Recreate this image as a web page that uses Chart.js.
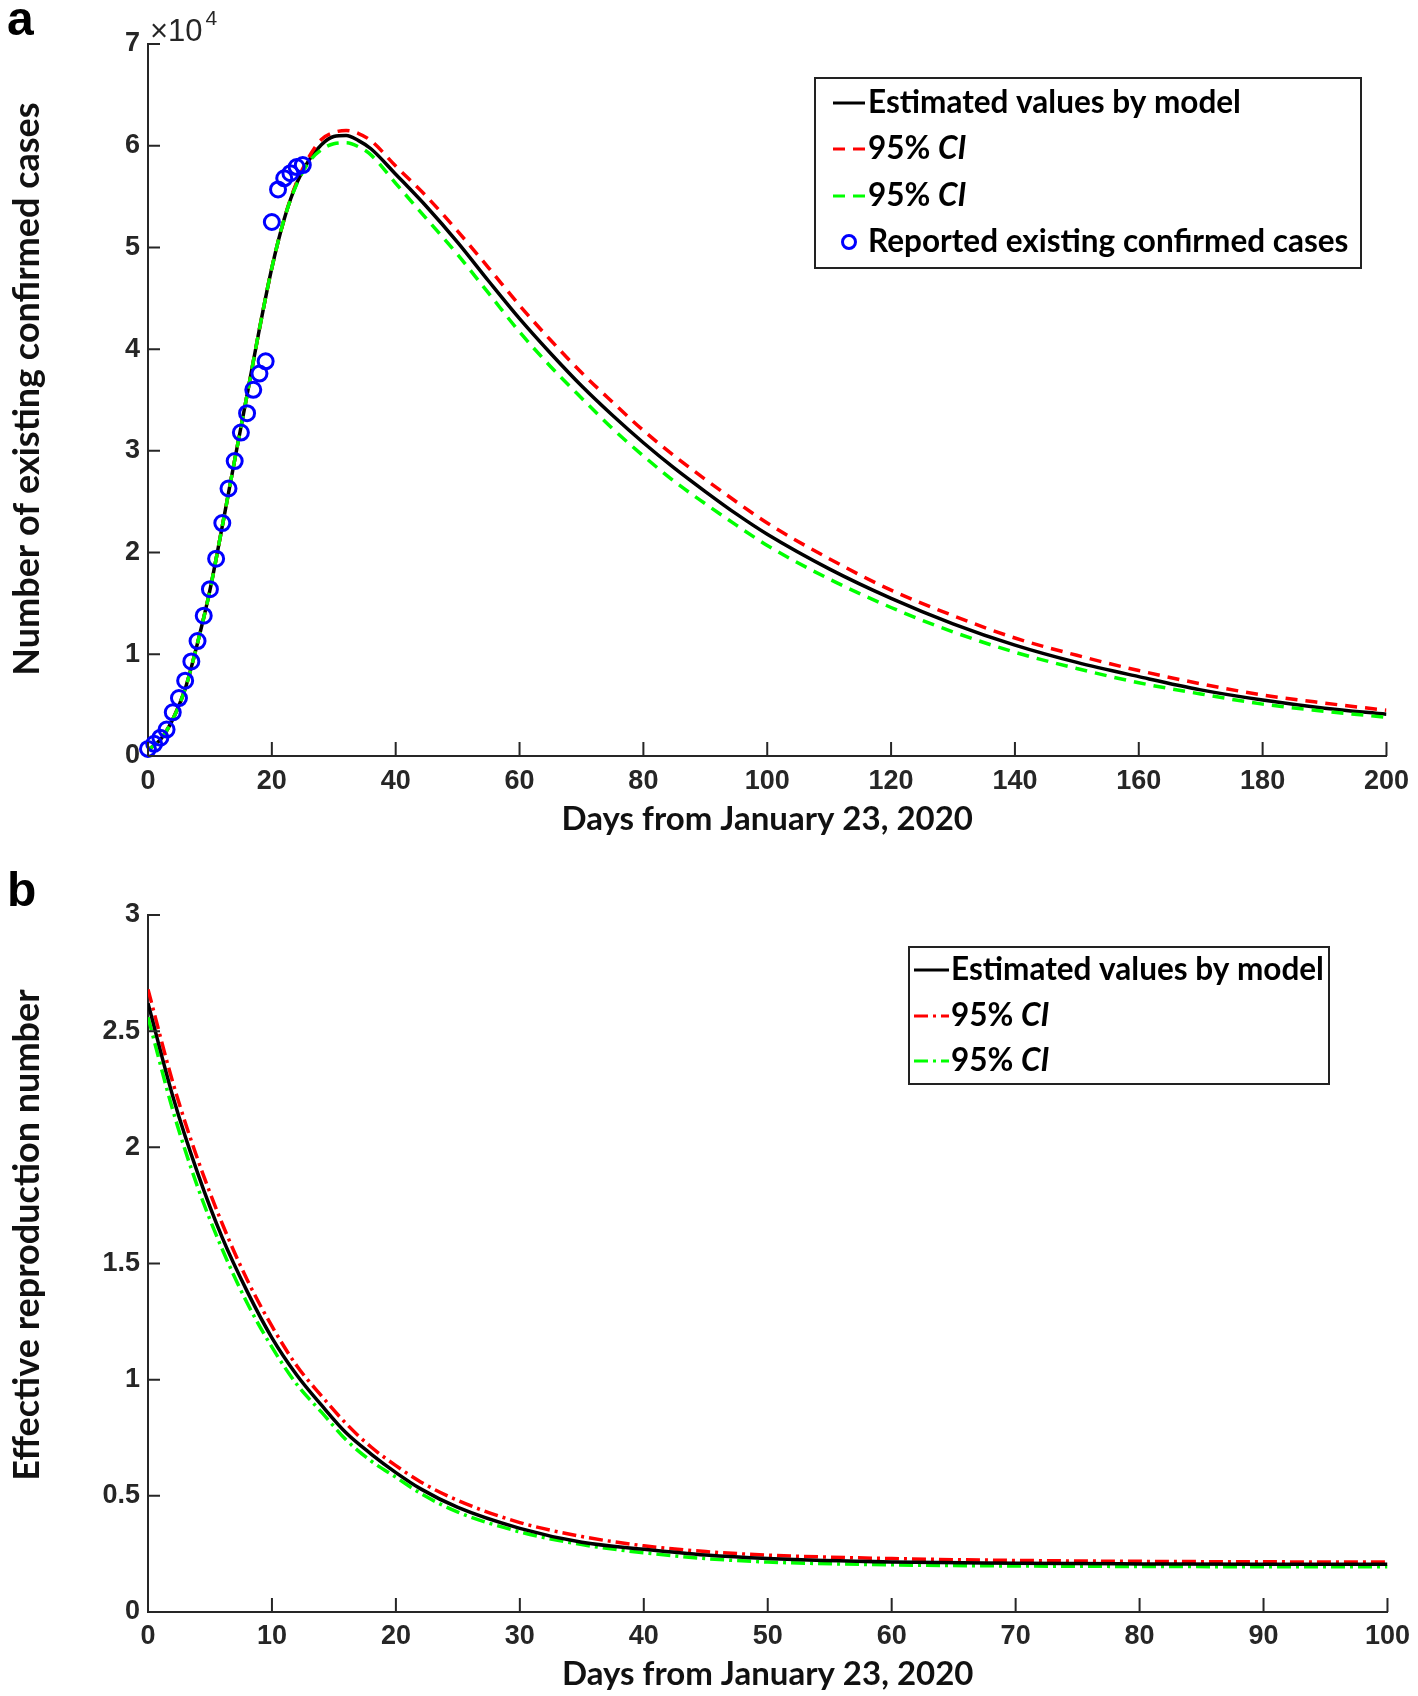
<!DOCTYPE html>
<html>
<head>
<meta charset="utf-8">
<script src="https://cdn.jsdelivr.net/npm/chart.js@4.4.0/dist/chart.umd.min.js"></script>
<style>
  html, body { margin: 0; padding: 0; background: #fff; }
  #wrap { position: relative; width: 1418px; height: 1696px; }
  canvas { position: absolute; left: 0; }
  #casesChart { top: 0; }
  #rtChart { top: 850px; }
</style>
</head>
<body>
<div id="wrap">
  <canvas id="casesChart" width="1418" height="850"></canvas>
  <canvas id="rtChart" width="1418" height="846"></canvas>
</div>
<script>
// ---- panel a: existing confirmed cases ----
const caseDays = [0, 2, 4, 6, 8, 10, 12, 14, 16, 18, 20, 22, 24, 26, 28, 30, 32, 34, 36,
  40, 45, 50, 55, 60, 65, 70, 75, 80, 85, 90, 95, 100, 110, 120, 130, 140, 150, 160, 170, 180, 190, 200];
const modelCases = [600, 1600, 3600, 6600, 11100, 16300, 22600, 29100, 35500, 42000, 48000, 52800, 56300, 58600, 60100, 60900, 61000, 60500, 59700,
  57200, 54000, 50500, 46700, 43000, 39600, 36400, 33500, 30800, 28300, 26000, 23800, 21800, 18400, 15500, 13000, 10900, 9200, 7800, 6500, 5500, 4700, 4100];
const upperCases = [600, 1600, 3600, 6600, 11100, 16300, 22600, 29100, 35500, 42000, 48000, 52800, 56400, 58900, 60600, 61300, 61500, 61200, 60500,
  58000, 55000, 51600, 48000, 44300, 40900, 37700, 34800, 32000, 29500, 27200, 25000, 22900, 19400, 16300, 13800, 11600, 9900, 8400, 7100, 6000, 5200, 4500];
const lowerCases = [600, 1600, 3600, 6600, 11100, 16300, 22600, 29100, 35500, 42000, 48000, 52800, 56200, 58400, 59600, 60200, 60300, 59900, 59100,
  56300, 52800, 49300, 45500, 41700, 38300, 35200, 32200, 29500, 27000, 24800, 22700, 20700, 17400, 14600, 12200, 10200, 8600, 7200, 6100, 5100, 4400, 3800];
const reportedDays = [0, 1, 2, 3, 4, 5, 6, 7, 8, 9, 10, 11, 12, 13, 14, 15, 16, 17, 18, 19, 20, 21, 22, 23, 24, 25];
const reportedCases = [700, 1200, 1800, 2600, 4300, 5700, 7400, 9300, 11300, 13800, 16400, 19400, 22900, 26300, 29000, 31800, 33700, 36000, 37600, 38800,
  52500, 55700, 56800, 57300, 57900, 58100];

// ---- panel b: effective reproduction number ----
const rtDays = [0, 2, 4, 6, 8, 10, 12, 14, 16, 18, 20, 22, 25, 30, 35, 40, 45, 50, 60, 70, 80, 90, 100];
const modelRt = [2.62, 2.22, 1.89, 1.61, 1.38, 1.18, 1.02, 0.89, 0.77, 0.68, 0.60, 0.53, 0.45, 0.36, 0.30, 0.27, 0.245, 0.23, 0.215, 0.21, 0.207, 0.205, 0.205];
const upperRt = [2.68, 2.28, 1.95, 1.67, 1.43, 1.23, 1.06, 0.93, 0.81, 0.71, 0.63, 0.56, 0.48, 0.385, 0.325, 0.285, 0.26, 0.245, 0.23, 0.222, 0.218, 0.216, 0.215];
const lowerRt = [2.56, 2.16, 1.83, 1.56, 1.33, 1.14, 0.98, 0.86, 0.74, 0.65, 0.58, 0.51, 0.43, 0.345, 0.29, 0.255, 0.23, 0.215, 0.203, 0.198, 0.196, 0.195, 0.195];

const xTitle = 'Days from January 23, 2020';
const tickFont = { family: "'Liberation Sans', Arial, sans-serif", weight: 'bold', size: 27 };
const xTitleFont = { family: "Lato, 'Open Sans', sans-serif", weight: 'bold', size: 33 };
const titleFamily = "Lato, 'Open Sans', sans-serif";
const legendFamily = "Lato, 'Open Sans', sans-serif";
const axisColor = '#262626';

const pts = (xs, ys) => xs.map((x, i) => ({ x: x, y: ys[i] }));

// MATLAB style ticks pointing into the plot
const inwardTicks = {
  id: 'inwardTicks',
  afterDatasetsDraw(chart) {
    const { ctx, chartArea, scales: { x, y } } = chart;
    ctx.save();
    ctx.strokeStyle = axisColor;
    ctx.lineWidth = 2;
    ctx.beginPath();
    x.ticks.forEach(t => {
      const px = x.getPixelForValue(t.value);
      ctx.moveTo(px, chartArea.bottom);
      ctx.lineTo(px, chartArea.bottom - 14);
    });
    y.ticks.forEach(t => {
      const py = y.getPixelForValue(t.value);
      ctx.moveTo(chartArea.left, py);
      ctx.lineTo(chartArea.left + 12, py);
    });
    ctx.stroke();
    ctx.restore();
  }
};

// boxed legend placed inside the plot, like the original figure
const boxLegend = {
  id: 'boxLegend',
  afterDraw(chart, args, opts) {
    const ctx = chart.ctx;
    ctx.save();
    ctx.fillStyle = '#fff';
    ctx.fillRect(opts.left, opts.top, opts.width, opts.height);
    ctx.strokeStyle = '#222';
    ctx.lineWidth = 2;
    ctx.strokeRect(opts.left, opts.top, opts.width, opts.height);
    chart.data.datasets.forEach((ds, i) => {
      const y = opts.rows[i];
      if (ds.showLine === false) {
        ctx.setLineDash([]);
        ctx.strokeStyle = ds.pointBorderColor;
        ctx.lineWidth = 3;
        ctx.beginPath();
        ctx.arc((opts.x0 + opts.x1) / 2, y, 6.5, 0, Math.PI * 2);
        ctx.stroke();
      } else {
        ctx.setLineDash(ds.borderDash || []);
        ctx.strokeStyle = ds.borderColor;
        ctx.lineWidth = 3;
        ctx.beginPath();
        ctx.moveTo(opts.x0, y);
        ctx.lineTo(opts.x1, y);
        ctx.stroke();
      }
      ctx.setLineDash([]);
      ctx.fillStyle = '#000';
      ctx.textBaseline = 'middle';
      let tx = opts.textX;
      let label = ds.label;
      if (label.endsWith(' CI')) {
        label = label.slice(0, -2);
        ctx.font = 'bold ' + opts.size + 'px ' + legendFamily;
        ctx.fillText(label, tx, y);
        tx += ctx.measureText(label).width;
        ctx.font = 'italic bold ' + opts.size + 'px ' + legendFamily;
        ctx.fillText('CI', tx, y);
      } else {
        ctx.font = 'bold ' + opts.size + 'px ' + legendFamily;
        ctx.fillText(label, tx, y);
      }
    });
    ctx.restore();
  }
};

// panel letter, rotated y title and the x10^4 multiplier
const panelText = {
  id: 'panelText',
  afterDraw(chart, args, opts) {
    const ctx = chart.ctx;
    ctx.save();
    ctx.fillStyle = '#000';
    ctx.textBaseline = 'alphabetic';
    ctx.font = 'bold 48px "Liberation Sans", Arial, sans-serif';
    ctx.fillText(opts.letter, 7, opts.letterY);

    ctx.save();
    ctx.translate(27, opts.yTitleY);
    ctx.rotate(-Math.PI / 2);
    ctx.fillStyle = '#111';
    ctx.textAlign = 'center';
    ctx.textBaseline = 'middle';
    ctx.font = 'bold 36px ' + titleFamily;
    ctx.fillText(opts.yTitle, 0, 0);
    ctx.restore();

    if (opts.exponent) {
      const left = chart.chartArea.left;
      ctx.fillStyle = axisColor;
      ctx.font = '31px "Liberation Sans", Arial, sans-serif';
      ctx.fillText('\u00d710', left + 2, 41);
      const w = ctx.measureText('\u00d710').width;
      ctx.font = '21px "Liberation Sans", Arial, sans-serif';
      ctx.fillText('4', left + 5 + w, 25);
    }
    ctx.restore();
  }
};

function lineSet(label, xs, ys, color, dash, order) {
  return {
    label: label,
    data: pts(xs, ys),
    borderColor: color,
    backgroundColor: color,
    borderWidth: 3.5,
    borderDash: dash,
    pointRadius: 0,
    cubicInterpolationMode: 'monotone',
    fill: false,
    order: order
  };
}

function axes(xMax, xStep, yMax, yStep, yCallback, xHeight, xPad, titlePad) {
  return {
    x: {
      type: 'linear', min: 0, max: xMax,
      ticks: { stepSize: xStep, color: axisColor, font: tickFont, padding: xPad, autoSkip: false, maxRotation: 0 },
      grid: { display: false, drawTicks: false },
      border: { display: true, color: axisColor, width: 2 },
      title: { display: true, text: xTitle, color: '#111', font: xTitleFont, padding: { top: 0, bottom: titlePad } },
      afterFit(scale) { scale.height = xHeight; }
    },
    y: {
      min: 0, max: yMax,
      ticks: { stepSize: yStep, color: axisColor, font: tickFont, padding: 8, callback: yCallback },
      grid: { display: false, drawTicks: false },
      border: { display: true, color: axisColor, width: 2 },
      afterFit(scale) { scale.width = 148; }
    }
  };
}

new Chart(document.getElementById('casesChart'), {
  type: 'line',
  data: {
    datasets: [
      lineSet('Estimated values by model', caseDays, modelCases, '#000000', [], 3),
      lineSet('95% CI', caseDays, upperCases, '#ff0000', [12, 8], 2),
      lineSet('95% CI', caseDays, lowerCases, '#00ff00', [12, 8], 1),
      {
        label: 'Reported existing confirmed cases',
        data: pts(reportedDays, reportedCases),
        showLine: false,
        pointStyle: 'circle',
        pointRadius: 7.5,
        pointBorderWidth: 3,
        pointBorderColor: '#0000ff',
        pointBackgroundColor: 'rgba(0,0,0,0)',
        borderColor: '#0000ff',
        clip: false,
        order: 0
      }
    ]
  },
  options: {
    responsive: false,
    animation: false,
    events: [],
    layout: { padding: { top: 44, right: 25, left: 0, bottom: 0 } },
    plugins: {
      legend: { display: false },
      tooltip: { enabled: false },
      boxLegend: { left: 815, top: 78, width: 546, height: 190, rows: [103, 149, 196, 242], x0: 833, x1: 865, textX: 868, size: 31.5 },
      panelText: { letter: 'a', letterY: 35, exponent: true, yTitle: 'Number of existing confirmed cases', yTitleY: 389 }
    },
    scales: axes(200, 20, 70000, 10000, v => v / 10000, 94, 9, 11)
  },
  plugins: [inwardTicks, boxLegend, panelText]
});

new Chart(document.getElementById('rtChart'), {
  type: 'line',
  data: {
    datasets: [
      lineSet('Estimated values by model', rtDays, modelRt, '#000000', [], 1),
      lineSet('95% CI', rtDays, upperRt, '#ff0000', [14, 5, 3, 5], 2),
      lineSet('95% CI', rtDays, lowerRt, '#00ff00', [14, 5, 3, 5], 3)
    ]
  },
  options: {
    responsive: false,
    animation: false,
    events: [],
    layout: { padding: { top: 65, right: 25, left: 0, bottom: 0 } },
    plugins: {
      legend: { display: false },
      tooltip: { enabled: false },
      boxLegend: { left: 909, top: 97, width: 420, height: 137, rows: [120, 166, 211], x0: 914, x1: 949, textX: 951, size: 31.5 },
      panelText: { letter: 'b', letterY: 56, exponent: false, yTitle: 'Effective reproduction number', yTitleY: 385 }
    },
    scales: axes(100, 10, 3, 0.5, v => v, 84, 8, 2)
  },
  plugins: [inwardTicks, boxLegend, panelText]
});
</script>
</body>
</html>
